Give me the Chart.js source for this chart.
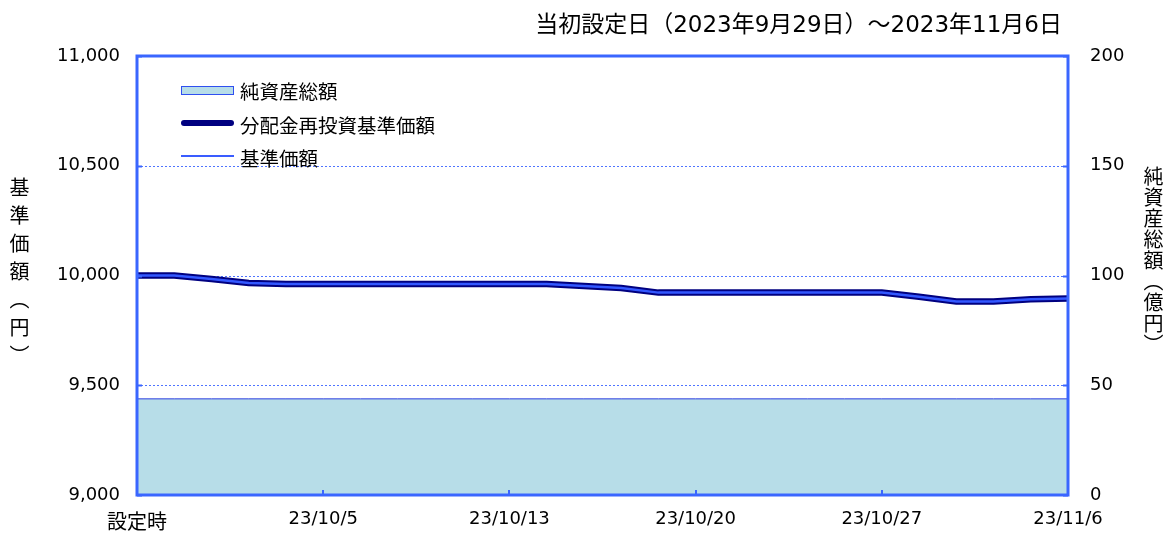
<!DOCTYPE html>
<html><head><meta charset="utf-8">
<script src="https://cdn.jsdelivr.net/npm/chart.js@4.4.1/dist/chart.umd.min.js"></script>
<style>
html,body{margin:0;padding:0;background:#fff;}
#wrap{position:relative;width:1166px;height:540px;overflow:hidden;}
canvas{position:absolute;left:0;top:0;}
.jp{font-family:"Noto Sans CJK JP","Noto Sans",sans-serif;color:#000;position:absolute;white-space:nowrap;}
#title{right:104px;top:5px;font-size:23px;font-family:"DejaVu Sans","Noto Sans CJK JP",sans-serif;}
.vt{writing-mode:vertical-rl;font-size:20px;line-height:30px;}
#ylab{left:4px;top:177px;letter-spacing:8px;}
#y1lab{left:1138px;top:166px;letter-spacing:1px;}
.lg{font-size:19.5px;left:240px;line-height:28px;}
.sw{position:absolute;left:181px;width:53px;}
</style></head>
<body><div id="wrap">
<canvas id="c" width="1166" height="540"></canvas>
<div id="title" class="jp">当初設定日（2023年9月29日）～2023年11月6日</div>
<div id="ylab" class="jp vt">基準価額（円）</div>
<div id="y1lab" class="jp vt">純資産総額（億円）</div>
<div class="sw" style="top:86px;background:#b7dde8;border:1px solid #2f4ff0;box-sizing:border-box;height:9px;"></div>
<div class="jp lg" style="top:77px;">純資産総額</div>
<div class="sw" style="top:120px;height:6px;background:#000080;border-radius:3px;"></div>
<div class="jp lg" style="top:111px;">分配金再投資基準価額</div>
<div class="sw" style="top:155px;height:2px;background:#3a5cff;"></div>
<div class="jp lg" style="top:144px;">基準価額</div>
</div>
<script>
const categories = ['設定時','23/9/29','23/10/2','23/10/3','23/10/4','23/10/5','23/10/6','23/10/10','23/10/11','23/10/12','23/10/13','23/10/16','23/10/17','23/10/18','23/10/19','23/10/20','23/10/23','23/10/24','23/10/25','23/10/26','23/10/27','23/10/30','23/10/31','23/11/1','23/11/2','23/11/6'];
const xTickLabels = ['設定時','23/10/5','23/10/13','23/10/20','23/10/27','23/11/6'];
const navValues = [10000,10000,9984,9966,9961,9961,9961,9961,9961,9961,9961,9961,9952,9943,9922,9922,9922,9922,9922,9922,9922,9903,9882,9882,9892,9895];
const reinvestNavValues = [10000,10000,9984,9966,9961,9961,9961,9961,9961,9961,9961,9961,9952,9943,9922,9922,9922,9922,9922,9922,9922,9903,9882,9882,9892,9895];
const netAssetValues = [43.8,43.8,43.8,43.8,43.8,43.8,43.8,43.8,43.8,43.8,43.8,43.8,43.8,43.8,43.8,43.8,43.8,43.8,43.8,43.8,43.8,43.8,43.8,43.8,43.8,43.8];
const yTicks = [9000,9500,10000,10500,11000];
const y1Ticks = [0,50,100,150,200];

const BLUE = '#3a66ff';
const tickFont = {family:'DejaVu Sans', size:18};

const framePlugin = {
  id:'frame',
  beforeDatasetsDraw(chart){
    const {ctx, chartArea:a, scales} = chart;
    ctx.save();
    ctx.strokeStyle = '#4f74ff';
    ctx.lineWidth = 1;
    ctx.setLineDash([2,2]);
    scales.y.ticks.forEach(t=>{
      if (t.value===scales.y.min || t.value===scales.y.max) return;
      const yy = Math.round(scales.y.getPixelForValue(t.value))+0.5;
      ctx.beginPath(); ctx.moveTo(a.left, yy); ctx.lineTo(a.right, yy); ctx.stroke();
    });
    ctx.restore();
  },
  afterDatasetsDraw(chart){
    const {ctx, chartArea:a, scales} = chart;
    ctx.save();
    ctx.strokeStyle = BLUE;
    ctx.lineWidth = 2;
    scales.y.ticks.forEach(t=>{
      const yy = Math.round(scales.y.getPixelForValue(t.value))+0.5;
      ctx.beginPath(); ctx.moveTo(a.left, yy); ctx.lineTo(a.left+5, yy); ctx.stroke();
    });
    scales.y1.ticks.forEach(t=>{
      const yy = Math.round(scales.y1.getPixelForValue(t.value))+0.5;
      ctx.beginPath(); ctx.moveTo(a.right, yy); ctx.lineTo(a.right-5, yy); ctx.stroke();
    });
    categories.forEach((c,i)=>{
      if (xTickLabels.includes(c)) {
        const xx = Math.round(scales.x.getPixelForValue(i));
        ctx.beginPath(); ctx.moveTo(xx, a.bottom); ctx.lineTo(xx, a.bottom-5); ctx.stroke();
      }
    });
    ctx.lineWidth = 3;
    ctx.strokeRect(a.left, a.top, a.right-a.left, a.bottom-a.top);
    ctx.restore();
  }
};

new Chart(document.getElementById('c'), {
  type:'line',
  data:{
    labels:categories,
    datasets:[
      {label:'基準価額', data:navValues, yAxisID:'y', borderColor:'#3358ff', borderWidth:2.5, pointRadius:0, tension:0, order:1},
      {label:'分配金再投資基準価額', data:reinvestNavValues, yAxisID:'y', borderColor:'#000080', borderWidth:6.5, pointRadius:0, tension:0, order:2},
      {label:'純資産総額', data:netAssetValues, yAxisID:'y1', borderColor:'#2f3fe0', borderWidth:1, backgroundColor:'#b7dde8', fill:'origin', pointRadius:0, tension:0, order:3}
    ]
  },
  options:{
    responsive:false, animation:false, devicePixelRatio:1,
    layout:{padding:{top:56,left:0,right:0,bottom:0}},
    plugins:{legend:{display:false}, tooltip:{enabled:false}, title:{display:false}},
    scales:{
      x:{
        type:'category', offset:false,
        grid:{display:false, drawTicks:false}, border:{display:false},
        ticks:{autoSkip:false, maxRotation:0, minRotation:0, padding:14, color:'#000',
          font:(c)=> (c.index===0 ? {family:'Noto Sans CJK JP', size:20} : tickFont),
          callback:function(v,i){ const c = categories[i]; return xTickLabels.includes(c) ? c : ''; }},
        afterFit(s){ s.height = 45; }
      },
      y:{
        position:'left', min:9000, max:11000,
        afterBuildTicks(s){ s.ticks = yTicks.map(v=>({value:v})); },
        grid:{display:false, drawTicks:false},
        border:{display:false},
        ticks:{padding:17, color:'#000', font:tickFont, callback:v=>v.toLocaleString('en-US')},
        afterFit(s){ s.width = 137; }
      },
      y1:{
        position:'right', min:0, max:200,
        afterBuildTicks(s){ s.ticks = y1Ticks.map(v=>({value:v})); },
        grid:{display:false, drawTicks:false}, border:{display:false},
        ticks:{padding:22, color:'#000', font:tickFont},
        afterFit(s){ s.width = 98; }
      }
    }
  },
  plugins:[framePlugin]
});
</script>
</body></html>
